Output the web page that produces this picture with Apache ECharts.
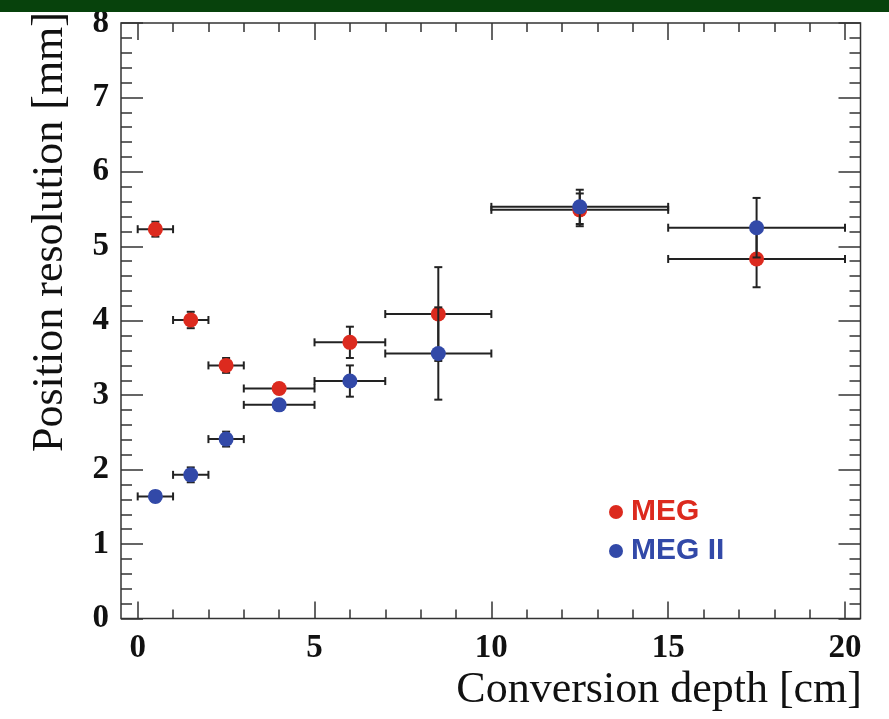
<!DOCTYPE html>
<html>
<head>
<meta charset="utf-8">
<script src="https://cdn.jsdelivr.net/npm/echarts@6/dist/echarts.min.js"></script>
<style>html,body{margin:0;padding:0;background:#fff;}#c{width:889px;height:719px;}</style>
</head>
<body>
<div id="c"></div>
<script>
// Data (conversion depth bins)
const depth      = [0.5, 1.5, 2.5, 4, 6, 8.5, 12.5, 17.5];
const depthErr   = [0.5, 0.5, 0.5, 1, 1, 1.5, 2.5, 2.5];
const megRes     = [5.23, 4.01, 3.40, 3.09, 3.71, 4.09, 5.49, 4.83];
const megResErr  = [0.10, 0.11, 0.10, 0.06, 0.21, 0.63, 0.22, 0.38];
const meg2Res    = [1.64, 1.93, 2.41, 2.87, 3.19, 3.56, 5.53, 5.25];
const meg2ResErr = [0.07, 0.10, 0.10, 0.06, 0.21, 0.62, 0.23, 0.40];
const xTicks = [0, 5, 10, 15, 20];
const yTicks = [0, 1, 2, 3, 4, 5, 6, 7, 8];

const RED = '#dc2a1e', BLUE = '#3249a8', ERR = '#222';
const serif = "'Liberation Serif', 'DejaVu Serif', serif";

function rows(ys, yes) {
  return depth.map((x, i) => [x, ys[i], depthErr[i], yes[i]]);
}
function errRender(params, api) {
  const x = api.value(0), y = api.value(1), xe = api.value(2), ye = api.value(3);
  const l = api.coord([x - xe, y]), r = api.coord([x + xe, y]);
  const t = api.coord([x, y + ye]), b = api.coord([x, y - ye]);
  const cap = 4;
  const st = { stroke: ERR, lineWidth: 2 };
  const seg = (x1, y1, x2, y2) => ({ type: 'line', shape: { x1, y1, x2, y2 }, style: st });
  return {
    type: 'group',
    children: [
      seg(l[0], l[1], r[0], r[1]),
      seg(l[0], l[1] - cap, l[0], l[1] + cap),
      seg(r[0], r[1] - cap, r[0], r[1] + cap),
      seg(t[0], t[1], b[0], b[1]),
      seg(t[0] - cap, t[1], t[0] + cap, t[1]),
      seg(b[0] - cap, b[1], b[0] + cap, b[1])
    ]
  };
}

const tickStyle = { color: '#333', width: 1.5 };
const frame = { left: 121, top: 23, width: 739.5, height: 595.5 };
const inner = { left: 137.7, top: 23, width: 707.3, height: 595.5 };

const chart = echarts.init(document.getElementById('c'), null, { renderer: 'canvas' });
chart.setOption({
  animation: false,
  backgroundColor: '#fff',
  grid: [
    Object.assign({ show: false }, inner),
    Object.assign({ show: true, borderColor: '#333', borderWidth: 1.5, backgroundColor: 'transparent' }, frame)
  ],
  xAxis: [
    { gridIndex: 0, type: 'value', position: 'bottom', min: xTicks[0], max: xTicks[xTicks.length - 1], interval: xTicks[1] - xTicks[0],
      axisLine: { show: false }, splitLine: { show: false },
      axisTick: { show: true, inside: true, length: 17, lineStyle: tickStyle },
      minorTick: { show: true, splitNumber: 5, length: 9, lineStyle: tickStyle },
      axisLabel: { fontFamily: serif, fontWeight: 'bold', fontSize: 33, color: '#111', margin: 13 } },
    { gridIndex: 0, type: 'value', position: 'top', min: xTicks[0], max: xTicks[xTicks.length - 1], interval: xTicks[1] - xTicks[0],
      axisLine: { show: false }, splitLine: { show: false },
      axisTick: { show: true, inside: true, length: 17, lineStyle: tickStyle },
      minorTick: { show: true, splitNumber: 5, length: 9, lineStyle: tickStyle },
      axisLabel: { show: false } },
    { gridIndex: 1, type: 'value', min: 0, max: 1, show: false }
  ],
  yAxis: [
    { gridIndex: 0, type: 'value', min: yTicks[0], max: yTicks[yTicks.length - 1], show: false },
    { gridIndex: 1, type: 'value', position: 'left', min: yTicks[0], max: yTicks[yTicks.length - 1], interval: yTicks[1] - yTicks[0],
      axisLine: { show: false }, splitLine: { show: false },
      axisTick: { show: true, inside: true, length: 22, lineStyle: tickStyle },
      minorTick: { show: true, splitNumber: 5, length: 11, lineStyle: tickStyle },
      axisLabel: { fontFamily: serif, fontWeight: 'bold', fontSize: 33, color: '#111', margin: 12 } },
    { gridIndex: 1, type: 'value', position: 'right', min: yTicks[0], max: yTicks[yTicks.length - 1], interval: yTicks[1] - yTicks[0],
      axisLine: { show: false }, splitLine: { show: false },
      axisTick: { show: true, inside: true, length: 22, lineStyle: tickStyle },
      minorTick: { show: true, splitNumber: 5, length: 11, lineStyle: tickStyle },
      axisLabel: { show: false } }
  ],
  legend: {
    orient: 'vertical', left: 604, top: 492, itemWidth: 14, itemHeight: 14, itemGap: 9,
    icon: 'circle',
    textStyle: { fontFamily: "'Liberation Sans', Arial, sans-serif", fontWeight: 'bold', fontSize: 30, lineHeight: 29, padding: [0, 0, 0, 3] },
    data: [
      { name: 'MEG', textStyle: { color: RED } },
      { name: 'MEG II', textStyle: { color: BLUE } }
    ]
  },
  graphic: [
    { type: 'rect', left: 0, top: 0, shape: { width: 889, height: 12 }, style: { fill: '#07420c' }, z: 10 },
    { type: 'text', x: 50, y: 232, rotation: Math.PI / 2,
      style: { text: 'Position resolution [mm]', font: "44px 'Liberation Serif', serif", fill: '#111', textAlign: 'center', textVerticalAlign: 'middle' } },
    { type: 'text', x: 862, y: 690,
      style: { text: 'Conversion depth [cm]', font: "44px 'Liberation Serif', serif", fill: '#111', textAlign: 'right', textVerticalAlign: 'middle' } }
  ],
  series: [
    { name: 'MEG err', type: 'custom', xAxisIndex: 0, yAxisIndex: 0, renderItem: errRender, data: rows(megRes, megResErr), z: 2 },
    { name: 'MEG', type: 'scatter', xAxisIndex: 0, yAxisIndex: 0, symbol: 'circle', symbolSize: 15,
      itemStyle: { color: RED, opacity: 1 }, data: depth.map((x, i) => [x, megRes[i]]), z: 3 },
    { name: 'MEG II err', type: 'custom', xAxisIndex: 0, yAxisIndex: 0, renderItem: errRender, data: rows(meg2Res, meg2ResErr), z: 4 },
    { name: 'MEG II', type: 'scatter', xAxisIndex: 0, yAxisIndex: 0, symbol: 'circle', symbolSize: 15,
      itemStyle: { color: BLUE, opacity: 1 }, data: depth.map((x, i) => [x, meg2Res[i]]), z: 5 }
  ]
});
</script>
</body>
</html>
